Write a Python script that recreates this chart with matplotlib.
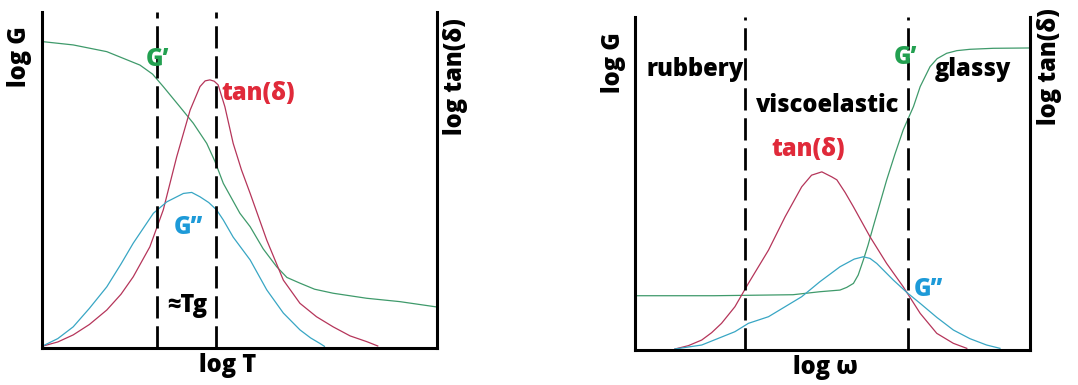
import matplotlib.pyplot as plt

plt.rcParams['font.family'] = ['Open Sans', 'DejaVu Sans']

# ---- left panel: modulus / tan(delta) against log T (0-100 schematic units)
t_gp_x = [0, 7.9, 16.4, 24.8, 28.0, 30.7, 34.9, 38.3, 41.7, 43.8, 45.9, 50.1, 52.7, 56.0, 59.4, 62.0, 65.3, 69.0, 73.7, 82.2, 90.6, 100]
t_gp_y = [91.2, 90.2, 88.2, 84.2, 81.5, 77.8, 71.8, 66.9, 60.9, 55.5, 49.0, 40.1, 36.1, 29.5, 24.2, 21.0, 19.3, 17.5, 16.3, 14.8, 13.8, 12.2]

t_tan_x = [0, 4.0, 7.9, 12.0, 16.4, 20.0, 23.1, 27.3, 30.7, 34.1, 37.5, 40.0, 41.3, 42.5, 43.6, 44.6, 46.3, 48.4, 50.5, 52.7, 56.9, 61.1, 65.3, 69.5, 73.7, 78.0, 82.2, 85.0]
t_tan_y = [0.5, 1.8, 3.9, 7.0, 11.3, 16.0, 21.2, 30.1, 41.1, 56.9, 70.8, 77.8, 79.5, 79.8, 79.4, 78.3, 71.8, 60.9, 53.0, 46.0, 32.1, 20.2, 13.3, 9.3, 6.3, 3.6, 1.9, 0.6]

t_gpp_x = [0, 4.0, 7.9, 12.0, 16.4, 20.0, 23.1, 28.2, 31.6, 35.8, 37.9, 40.0, 42.2, 44.2, 45.9, 48.4, 52.7, 56.9, 61.1, 65.3, 68.0, 70.3, 71.5]
t_gpp_y = [0.5, 2.8, 6.3, 11.8, 18.2, 25.0, 31.2, 40.1, 43.5, 46.0, 46.3, 45.0, 43.3, 41.1, 38.1, 33.0, 26.2, 17.3, 10.4, 5.4, 3.0, 1.4, 0.5]

t_dash = [29.1, 44.1]

# ---- right panel: against log omega
w_gp_x = [0, 20.0, 40.0, 46.8, 51.9, 53.6, 55.3, 56.5, 57.8, 59.0, 60.3, 62.0, 63.7, 65.8, 67.9, 70.5, 72.2, 74.7, 76.5, 78.9, 81.5, 84.8, 90.7, 100]
w_gp_y = [16.3, 16.3, 16.6, 17.5, 18.0, 18.8, 20.0, 22.5, 27.0, 31.5, 37.0, 44.0, 51.0, 58.8, 66.1, 73.1, 79.1, 85.1, 87.5, 89.1, 89.9, 90.3, 90.6, 90.7]

w_tan_x = [10.1, 13.5, 16.9, 19.4, 21.9, 25.3, 28.7, 33.8, 38.0, 42.2, 44.7, 47.3, 49.8, 51.1, 53.2, 55.3, 59.5, 63.7, 67.9, 72.2, 76.4, 80.6, 84.0]
w_tan_y = [0.3, 1.3, 3.0, 5.2, 8.0, 13.0, 20.0, 30.0, 40.0, 49.0, 52.5, 53.5, 52.0, 51.1, 47.3, 43.0, 34.0, 26.0, 19.0, 11.0, 5.0, 2.0, 0.5]

w_gpp_x = [10.1, 16.9, 25.3, 28.7, 33.8, 38.0, 42.2, 46.8, 51.9, 55.5, 57.8, 59.5, 61.2, 65.4, 68.8, 72.2, 76.4, 80.6, 84.8, 89.0, 92.4]
w_gpp_y = [0.3, 1.5, 5.5, 8.0, 10.0, 13.0, 16.0, 20.5, 25.0, 27.3, 28.0, 27.5, 26.0, 21.0, 17.3, 14.0, 9.8, 6.0, 3.4, 1.5, 0.5]

w_dash = [27.8, 69.2]

green_line = '#3f9a6b'
red_line = '#b5355a'
blue_line = '#38a6c4'
green_txt = '#22a050'
red_txt = '#e02a3a'
blue_txt = '#1d9ad8'

W, H = 1078, 385
fig = plt.figure(figsize=(W / 100, H / 100), dpi=100)


def px_box(x0, y_top, x1, y_bot):
    return [x0 / W, 1 - y_bot / H, (x1 - x0) / W, (y_bot - y_top) / H]


def setup(ax):
    ax.set_xlim(0, 100)
    ax.set_ylim(0, 100)
    ax.set_xticks([])
    ax.set_yticks([])
    ax.spines['top'].set_visible(False)
    for s in ['left', 'right', 'bottom']:
        ax.spines[s].set_linewidth(2.2)
    ax.patch.set_alpha(0)


def draw(ax, gp, tan, gpp, dash):
    ax.plot(*gp, color=green_line, lw=0.9)
    ax.plot(*tan, color=red_line, lw=0.9)
    ax.plot(*gpp, color=blue_line, lw=0.9)
    for x in dash:
        ax.axvline(x, color='black', lw=2.0, dashes=(8, 2.8))


axL = fig.add_axes(px_box(42, 12, 437, 348))
setup(axL)
draw(axL, (t_gp_x, t_gp_y), (t_tan_x, t_tan_y), (t_gpp_x, t_gpp_y), t_dash)

axR = fig.add_axes(px_box(635, 17, 1030, 350))
setup(axR)
draw(axR, (w_gp_x, w_gp_y), (w_tan_x, w_tan_y), (w_gpp_x, w_gpp_y), w_dash)


def label(x, y, s, color='black', rot=0, size=17):
    fig.text(x / W, 1 - y / H, s, color=color, rotation=rot, fontsize=size,
             fontweight=800, ha='center', va='center')


# left panel text
label(20, 57, 'log G', rot=90)
label(455, 77, 'log tan(δ)', rot=90)
label(228, 366, 'log T')
label(157, 60, 'G\u2019', green_txt)
label(258, 93, 'tan(δ)', red_txt)
label(188, 228, 'G\u201d', blue_txt)
label(187, 305, '≈Tg')

# right panel text
label(613, 63, 'log G', rot=90)
label(1050, 67, 'log tan(δ)', rot=90)
label(825, 367, 'log ω')
label(695, 70, 'rubbery')
label(828, 105, 'viscoelastic')
label(808, 150, 'tan(δ)', red_txt)
label(905, 57, 'G\u2019', green_txt)
label(973, 70, 'glassy')
label(928, 290, 'G\u201d', blue_txt)

fig.savefig('out.png', dpi=100)
